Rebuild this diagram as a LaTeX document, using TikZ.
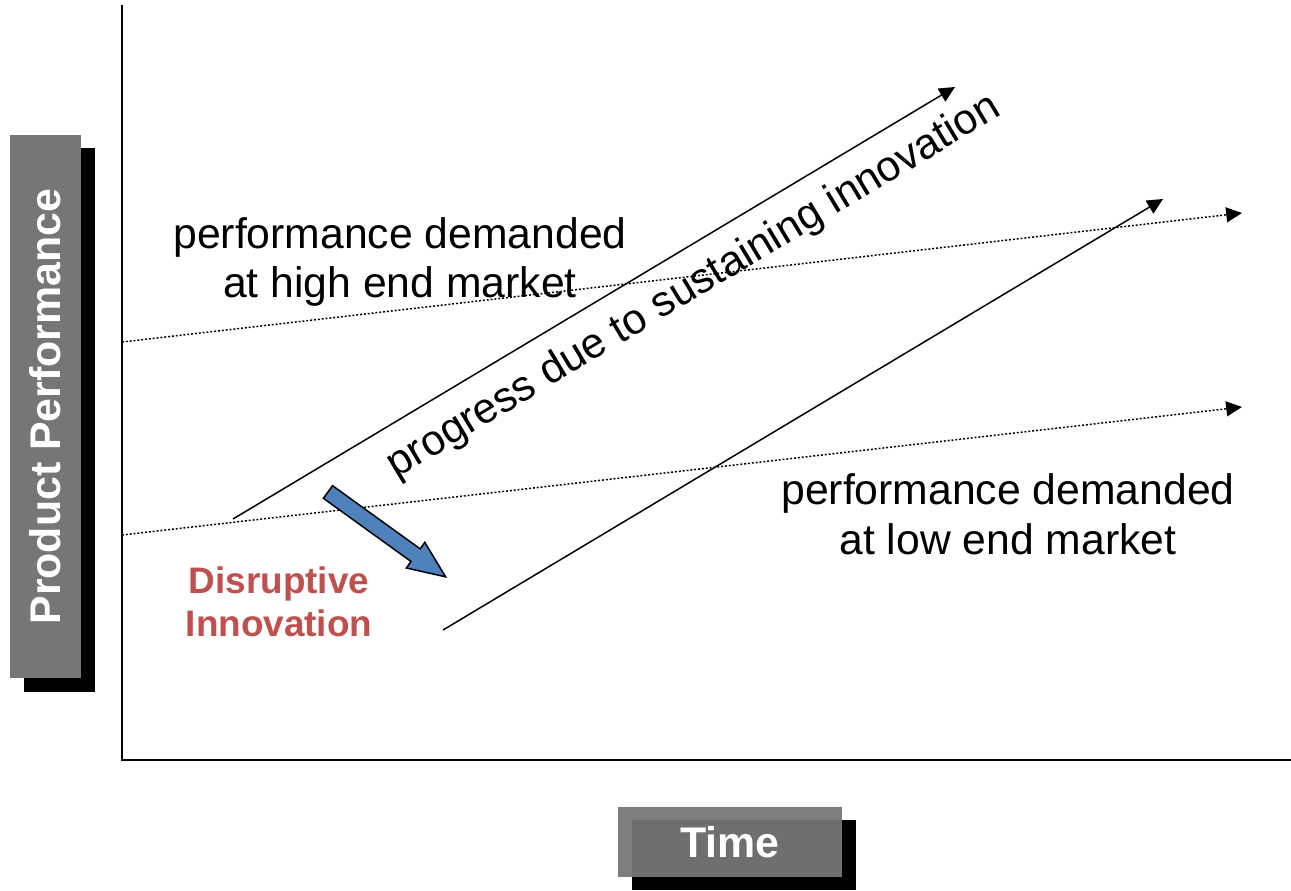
\documentclass[tikz,border=0pt]{standalone}
\usepackage{fontspec}
\setmainfont{Liberation Sans}
\usetikzlibrary{arrows.meta}
\definecolor{boxgray}{RGB}{118,118,118}
\definecolor{disrupt}{RGB}{192,80,77}
\definecolor{arrowblue}{RGB}{79,129,189}

\begin{document}
\begin{tikzpicture}[x=0.02cm,y=-0.02cm,
	demand/.style={line width=0.85pt,dash pattern=on 1.1pt off 1.1pt,-{Triangle[length=9pt,width=8.5pt]}},
	trend/.style={line width=0.85pt,-{Triangle[length=9pt,width=8.5pt]}},
	labelbox/.style={fill=boxgray,fill opacity=0.94,text opacity=1,text=white,inner sep=0pt,font=\fontsize{24.4}{28}\selectfont\bfseries},
	note/.style={align=center,font=\fontsize{24.3}{28.4}\selectfont}]
		\useasboundingbox (0,0) rectangle (1291,890);
		\begin{scope}
			\coordinate (o) at (122,760);
			\coordinate (top) at (122,5);
			\coordinate (right) at (1291,760);
			\coordinate (hs) at (122,342);
			\coordinate (he) at (1242,213);
			\coordinate (ls) at (122,535);
			\coordinate (le) at (1242,407);
			\coordinate (ss) at (233,519);
			\coordinate (se) at (955,87);
			\coordinate (ds) at (443,630);
			\coordinate (de) at (1163,199);
			\coordinate (jump) at (328,492);
			\draw[line width=1.15pt] (top) -- (o) -- (right);
			\foreach \a/\b in {hs/he,ls/le}
			\draw[demand] (\a) -- (\b);
			\foreach \a/\b in {ss/se,ds/de}
			\draw[trend] (\a) -- (\b);
			\begin{scope}[shift={(jump)},rotate=-35.8]
				\draw[fill=arrowblue,line width=0.85pt] (0,-7.8) -- (108,-7.8) -- (108,-15.8) -- (145,0) -- (108,15.8) -- (108,7.8) -- (0,7.8) -- cycle;
			\end{scope}
			\node[note] (high) at (400,262) {performance demanded\\at high end market};
			\node[note] (low) at (1008,514) {performance demanded\\at low end market};
			\node[note,rotate=31] (prog) at (694,287) {progress due to sustaining innovation};
			\node[align=center,text=disrupt,font=\fontsize{21}{24.4}\selectfont\bfseries] (dis) at (279,602) {Disruptive\\Innovation};
			\fill (24,148) rectangle (95,692);
			\node[labelbox,fill opacity=1,rotate=90,minimum width=10.86cm,minimum height=1.42cm] (perf) at (45.5,406.5) {Product Performance};
			\fill (632,820) rectangle (856,890);
			\node[labelbox,minimum width=4.48cm,minimum height=1.4cm] (time) at (730,842) {Time};
		\end{scope}
	\end{tikzpicture}
\end{document}
